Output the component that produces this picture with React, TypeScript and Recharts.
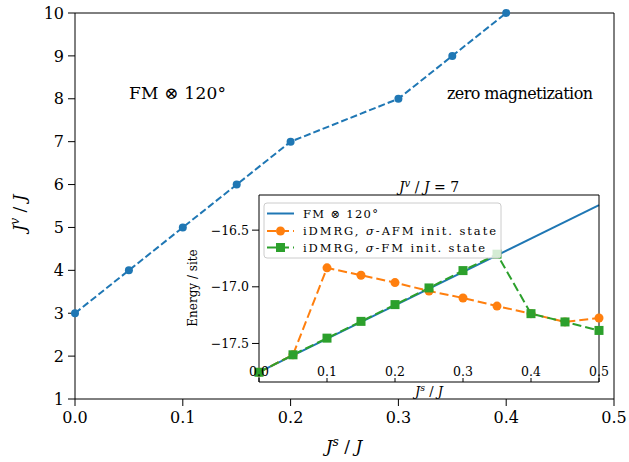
import { LineChart, Line, XAxis, YAxis } from "recharts";

const FONT = "'DejaVu Serif', 'Liberation Serif', serif";
const BLUE = "#1f77b4";
const ORANGE = "#ff7f0e";
const GREEN = "#2ca02c";

/* main panel: phase boundary J^v/J vs J^s/J */
const mainJs = [0, 0.05, 0.1, 0.15, 0.2, 0.3, 0.35, 0.4];
const mainJv = [3, 4, 5, 6, 7, 8, 9, 10];
const mainXTicks = [0, 0.1, 0.2, 0.3, 0.4, 0.5];
const mainYTicks = [1, 2, 3, 4, 5, 6, 7, 8, 9, 10];

/* inset: energy per site at J^v/J = 7 */
const insetJs = [0, 0.05, 0.1, 0.15, 0.2, 0.25, 0.3, 0.35, 0.4, 0.45, 0.5];
const afmEnergy = [-17.754, -17.6, -16.833, -16.898, -16.963, -17.037, -17.099, -17.17, -17.237, -17.31, -17.275];
const fmEnergy = [-17.754, -17.6, -17.453, -17.305, -17.157, -17.01, -16.857, -16.712, -17.237, -17.31, -17.385];
const fmLineJs = [0, 0.5];
const fmLineEnergy = [-17.753, -16.28];
const insetXTicks = [0, 0.1, 0.2, 0.3, 0.4, 0.5];
const insetYTicks = [-17.5, -17.0, -16.5];

const mainData = mainJs.map((x, i) => ({ x, y: mainJv[i] }));
const afmData = insetJs.map((x, i) => ({ x, y: afmEnergy[i] }));
const fmData = insetJs.map((x, i) => ({ x, y: fmEnergy[i] }));
const lineData = fmLineJs.map((x, i) => ({ x, y: fmLineEnergy[i] }));

const fmt1 = (v: number) => v.toFixed(1).replace("-", "\u2212");

function SquareDot(props: any) {
  const { cx, cy, index } = props;
  if (cx == null || cy == null) return <g key={index} />;
  return <rect key={index} x={cx - 4.5} y={cy - 4.5} width={9} height={9} fill={GREEN} />;
}

function InsetXTick(props: any) {
  const { x, y, payload } = props;
  return (
    <g>
      <line x1={x} y1={y} x2={x} y2={y - 4} stroke="#000" />
      <text x={x} y={y - 6} textAnchor="middle" fontSize={12.5} fontFamily={FONT} fill="#000">
        {fmt1(payload.value)}
      </text>
    </g>
  );
}

function JLabel({ sup }: { sup: string }) {
  return (
    <>
      <tspan fontStyle="italic">J</tspan>
      <tspan fontStyle="italic" fontSize="72%" dy={-6}>{sup}</tspan>
      <tspan dy={6}> / </tspan>
      <tspan fontStyle="italic">J</tspan>
    </>
  );
}

export default function App() {
  const tickStyle = { fill: "#000", fontSize: 16, fontFamily: FONT };
  const insetTick = { fill: "#000", fontSize: 12.5, fontFamily: FONT };

  return (
    <div style={{ position: "absolute", left: 0, top: 0, width: 629, height: 462, background: "#fff" }}>
      {/* ---- main panel ---- */}
      <div style={{ position: "absolute", left: 0, top: 0 }}>
        <LineChart width={629} height={462} margin={{ top: 12, right: 14, bottom: 0, left: 0 }}>
          <XAxis
            xAxisId="b"
            type="number"
            dataKey="x"
            domain={[0, 0.5]}
            ticks={mainXTicks}
            tickFormatter={fmt1}
            height={63}
            tickSize={7}
            tickMargin={6}
            stroke="#000"
            tick={tickStyle}
            interval={0}
          />
          <XAxis xAxisId="t" orientation="top" type="number" domain={[0, 0.5]} height={1} tick={false} tickLine={false} stroke="#000" />
          <YAxis
            yAxisId="l"
            type="number"
            domain={[1, 10]}
            ticks={mainYTicks}
            width={75}
            tickSize={7}
            tickMargin={4}
            stroke="#000"
            tick={tickStyle}
            interval={0}
          />
          <YAxis yAxisId="r" orientation="right" type="number" domain={[1, 10]} width={1} tick={false} tickLine={false} stroke="#000" />
          <Line
            xAxisId="b"
            yAxisId="l"
            data={mainData}
            dataKey="y"
            stroke={BLUE}
            strokeWidth={2}
            strokeDasharray="7 3"
            dot={{ r: 4, fill: BLUE, stroke: "none" }}
            isAnimationActive={false}
          />
        </LineChart>
      </div>

      {/* ---- inset ---- */}
      <div style={{ position: "absolute", left: 180, top: 170 }}>
        <LineChart width={440} height={230} margin={{ top: 24, right: 20, bottom: 17, left: 0 }}>
          <XAxis
            xAxisId="b"
            type="number"
            dataKey="x"
            domain={[0, 0.5]}
            ticks={insetXTicks}
            height={1}
            tickSize={0}
            tickMargin={0}
            tickLine={false}
            tick={InsetXTick}
            stroke="#000"
            interval={0}
          />
          <XAxis xAxisId="t" orientation="top" type="number" domain={[0, 0.5]} height={1} tick={false} tickLine={false} stroke="#000" />
          <YAxis
            yAxisId="l"
            type="number"
            domain={[-17.84, -16.19]}
            ticks={insetYTicks}
            tickFormatter={fmt1}
            width={79}
            tickSize={7}
            tickMargin={3}
            stroke="#000"
            tick={insetTick}
            interval={0}
          />
          <YAxis yAxisId="r" orientation="right" type="number" domain={[-17.84, -16.19]} width={1} tick={false} tickLine={false} stroke="#000" />
          <Line xAxisId="b" yAxisId="l" data={lineData} dataKey="y" stroke={BLUE} strokeWidth={2} dot={false} isAnimationActive={false} />
          <Line
            xAxisId="b"
            yAxisId="l"
            data={afmData}
            dataKey="y"
            stroke={ORANGE}
            strokeWidth={2}
            strokeDasharray="9 4"
            dot={{ r: 4.5, fill: ORANGE, stroke: "none" }}
            isAnimationActive={false}
          />
          <Line
            xAxisId="b"
            yAxisId="l"
            data={fmData}
            dataKey="y"
            stroke={GREEN}
            strokeWidth={2}
            strokeDasharray="9 4"
            dot={SquareDot}
            isAnimationActive={false}
          />
        </LineChart>
      </div>

      {/* ---- labels, annotations, legend ---- */}
      <svg width={629} height={462} style={{ position: "absolute", left: 0, top: 0, pointerEvents: "none" }} fontFamily={FONT}>
        <text transform="translate(25,213) rotate(-90)" textAnchor="middle" fontSize={17} fill="#000">
          <JLabel sup="v" />
        </text>
        <text x={344} y={452} textAnchor="middle" fontSize={17} fill="#000">
          <JLabel sup="s" />
        </text>

        <text x={129} y={99} fontSize={17} fill="#000" textLength={97} lengthAdjust="spacing">
          FM ⊗ 120°
        </text>
        <text x={447} y={99} fontSize={16} fill="#000" textLength={146} lengthAdjust="spacing">
          zero magnetization
        </text>

        <text x={429} y={192} textAnchor="middle" fontSize={14} fill="#000">
          <tspan fontStyle="italic">J</tspan>
          <tspan fontStyle="italic" fontSize="72%" dy={-5}>v</tspan>
          <tspan dy={5}> / </tspan>
          <tspan fontStyle="italic">J</tspan>
          <tspan> = 7</tspan>
        </text>
        <text transform="translate(197,288) rotate(-90)" textAnchor="middle" fontSize={12} fill="#000">
          Energy / site
        </text>
        <text x={429} y={396} textAnchor="middle" fontSize={13} fill="#000">
          <tspan fontStyle="italic">J</tspan>
          <tspan fontStyle="italic" fontSize="72%" dy={-5}>s</tspan>
          <tspan dy={5}> / </tspan>
          <tspan fontStyle="italic">J</tspan>
        </text>

        <rect x={264} y={203} width={237} height={55} rx={3} fill="#fff" fillOpacity={0.8} stroke="#ccc" />
        <line x1={267} y1={213.5} x2={294} y2={213.5} stroke={BLUE} strokeWidth={2} />
        <text x={303} y={217.5} fontSize={11.5} fill="#000" textLength={75} lengthAdjust="spacing">
          FM ⊗ 120°
        </text>
        <line x1={267} y1={231} x2={294} y2={231} stroke={ORANGE} strokeWidth={2} strokeDasharray="9 4" />
        <circle cx={280.5} cy={231} r={4.5} fill={ORANGE} />
        <text x={303} y={235} fontSize={11.5} fill="#000" textLength={193} lengthAdjust="spacing">
          iDMRG, <tspan fontStyle="italic">σ</tspan>-AFM init. state
        </text>
        <line x1={267} y1={247.5} x2={294} y2={247.5} stroke={GREEN} strokeWidth={2} strokeDasharray="9 4" />
        <rect x={276} y={243} width={9} height={9} fill={GREEN} />
        <text x={303} y={251.5} fontSize={11.5} fill="#000" textLength={182} lengthAdjust="spacing">
          iDMRG, <tspan fontStyle="italic">σ</tspan>-FM init. state
        </text>
      </svg>
    </div>
  );
}
